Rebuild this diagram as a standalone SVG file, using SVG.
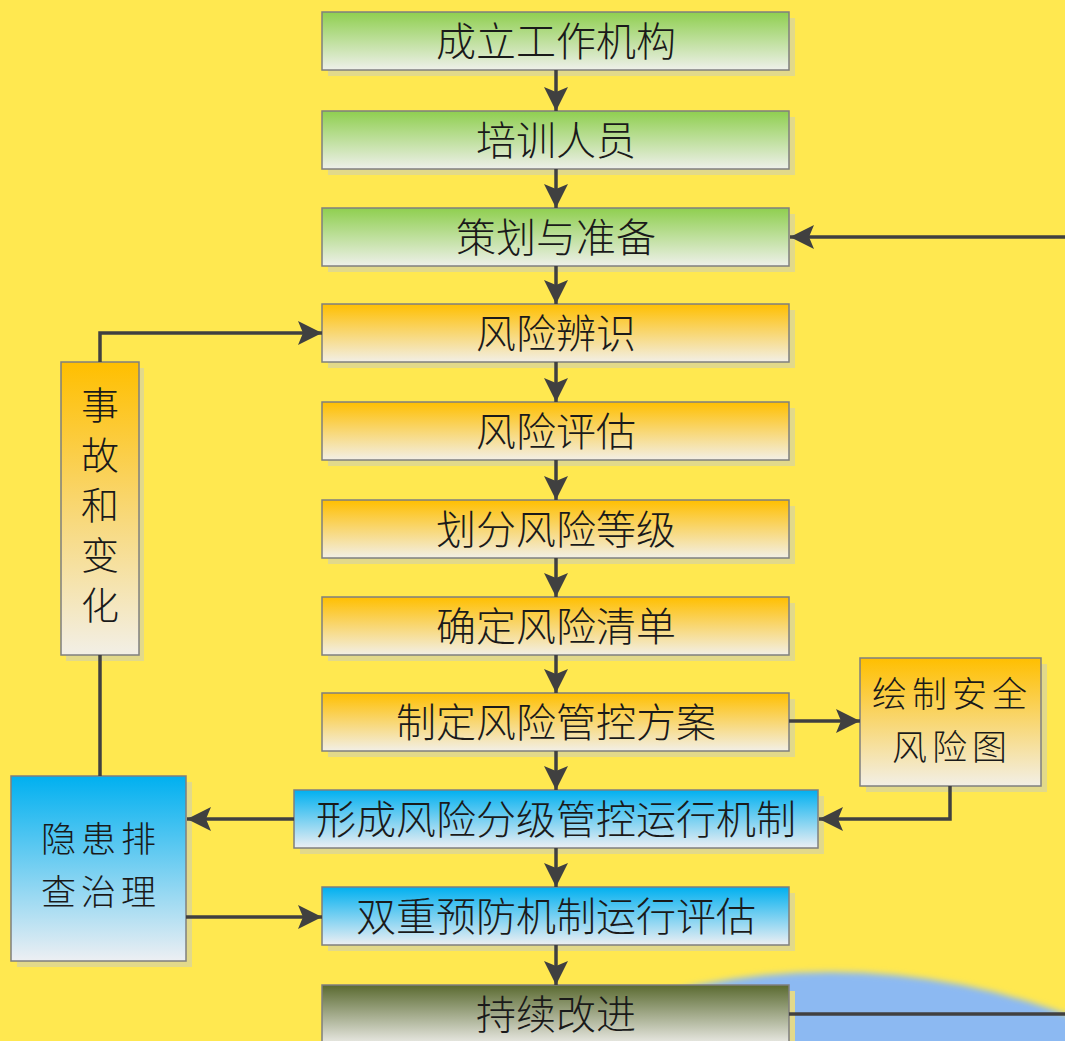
<svg xmlns="http://www.w3.org/2000/svg" width="1065" height="1041" viewBox="0 0 1065 1041">
<defs>
<linearGradient id="gGreen" x1="0" y1="0" x2="0" y2="1"><stop offset="0" stop-color="#8fcf4f"/><stop offset="1" stop-color="#eef0ea"/></linearGradient>
<linearGradient id="gOrange" x1="0" y1="0" x2="0" y2="1"><stop offset="0" stop-color="#ffbf00"/><stop offset="1" stop-color="#f2efe6"/></linearGradient>
<linearGradient id="gBlue" x1="0" y1="0" x2="0" y2="1"><stop offset="0" stop-color="#00b0f0"/><stop offset="1" stop-color="#edeff3"/></linearGradient>
<linearGradient id="gDark" x1="0" y1="0" x2="0" y2="1"><stop offset="0" stop-color="#5a6a30"/><stop offset="1" stop-color="#e8e8e2"/></linearGradient>
<filter id="blur" x="-10%" y="-10%" width="120%" height="120%"><feGaussianBlur stdDeviation="3"/></filter>
<marker id="arr" viewBox="0 0 24 24" refX="24" refY="12" markerWidth="24" markerHeight="24" markerUnits="userSpaceOnUse" orient="auto">
<path d="M0,0 L24,12 L0,24 L5,12 Z" fill="#404040"/>
</marker>
<style>
.shadow{fill:#e2d98a}
.box{stroke:#7f7f7f;stroke-width:1.5}
.t{font-family:"Noto Sans CJK SC","Noto Sans CJK JP",sans-serif;font-size:40px;font-weight:300;fill:#1a1a1a;text-anchor:middle;dominant-baseline:central}
.t2{font-family:"Noto Sans CJK SC","Noto Sans CJK JP",sans-serif;font-size:35px;font-weight:300;letter-spacing:5px;fill:#1a1a1a;text-anchor:middle;dominant-baseline:central}
.v{font-family:"Noto Sans CJK SC","Noto Sans CJK JP",sans-serif;font-size:38px;font-weight:300;fill:#1a1a1a;writing-mode:vertical-rl;letter-spacing:12px}
.c{fill:none;stroke:#404040;stroke-width:3.5}
.a{marker-end:url(#arr)}
</style>
</defs>
<rect width="1065" height="1041" fill="#ffe850"/>
<circle cx="830" cy="1652" r="680" fill="#8cb9f2" filter="url(#blur)"/>

<g id="n1"><rect class="shadow" x="328" y="18" width="467" height="58"/><rect class="box" x="322" y="12" width="467" height="58" fill="url(#gGreen)"/><text class="t" x="556" y="39">成立工作机构</text></g>
<g id="n2"><rect class="shadow" x="328" y="117" width="467" height="58"/><rect class="box" x="322" y="111" width="467" height="58" fill="url(#gGreen)"/><text class="t" x="556" y="138">培训人员</text></g>
<g id="n3"><rect class="shadow" x="328" y="214" width="467" height="58"/><rect class="box" x="322" y="208" width="467" height="58" fill="url(#gGreen)"/><text class="t" x="556" y="235">策划与准备</text></g>
<g id="n4"><rect class="shadow" x="328" y="310" width="467" height="58"/><rect class="box" x="322" y="304" width="467" height="58" fill="url(#gOrange)"/><text class="t" x="556" y="331">风险辨识</text></g>
<g id="n5"><rect class="shadow" x="328" y="408" width="467" height="58"/><rect class="box" x="322" y="402" width="467" height="58" fill="url(#gOrange)"/><text class="t" x="556" y="429">风险评估</text></g>
<g id="n6"><rect class="shadow" x="328" y="506" width="467" height="58"/><rect class="box" x="322" y="500" width="467" height="58" fill="url(#gOrange)"/><text class="t" x="556" y="527">划分风险等级</text></g>
<g id="n7"><rect class="shadow" x="328" y="603" width="467" height="58"/><rect class="box" x="322" y="597" width="467" height="58" fill="url(#gOrange)"/><text class="t" x="556" y="624">确定风险清单</text></g>
<g id="n8"><rect class="shadow" x="328" y="699" width="467" height="58"/><rect class="box" x="322" y="693" width="467" height="58" fill="url(#gOrange)"/><text class="t" x="556" y="720">制定风险管控方案</text></g>
<g id="n9"><rect class="shadow" x="300" y="796" width="524" height="58"/><rect class="box" x="294" y="790" width="524" height="58" fill="url(#gBlue)"/><text class="t" x="556" y="817">形成风险分级管控运行机制</text></g>
<g id="n10"><rect class="shadow" x="328" y="893" width="467" height="58"/><rect class="box" x="322" y="887" width="467" height="58" fill="url(#gBlue)"/><text class="t" x="556" y="914">双重预防机制运行评估</text></g>
<g id="n11"><rect class="shadow" x="328" y="991" width="467" height="58"/><rect class="box" x="322" y="985" width="467" height="58" fill="url(#gDark)"/><text class="t" x="556" y="1012">持续改进</text></g>

<g id="n12"><rect class="shadow" x="66" y="368" width="78" height="293"/><rect class="box" x="61" y="362" width="78" height="293" fill="url(#gOrange)"/>
<text class="v" x="100" y="386">事故和变化</text></g>
<g id="n13"><rect class="shadow" x="17" y="782" width="175" height="185"/><rect class="box" x="11" y="776" width="175" height="185" fill="url(#gBlue)"/>
<text class="t2" x="101" y="836">隐患排</text><text class="t2" x="101" y="889">查治理</text></g>
<g id="n14"><rect class="shadow" x="866" y="664" width="181" height="128"/><rect class="box" x="860" y="658" width="181" height="128" fill="url(#gOrange)"/>
<text class="t2" x="952" y="691">绘制安全</text><text class="t2" x="952" y="744">风险图</text></g>

<g id="connectors">
<line class="c a" x1="556" y1="70" x2="556" y2="111"/>
<line class="c a" x1="556" y1="169" x2="556" y2="208"/>
<line class="c a" x1="556" y1="266" x2="556" y2="304"/>
<line class="c a" x1="556" y1="362" x2="556" y2="402"/>
<line class="c a" x1="556" y1="460" x2="556" y2="500"/>
<line class="c a" x1="556" y1="558" x2="556" y2="597"/>
<line class="c a" x1="556" y1="655" x2="556" y2="693"/>
<line class="c a" x1="556" y1="751" x2="556" y2="790"/>
<line class="c a" x1="556" y1="848" x2="556" y2="887"/>
<line class="c a" x1="556" y1="945" x2="556" y2="985"/>
<line class="c a" x1="1065" y1="237" x2="790" y2="237"/>
<polyline class="c a" points="100,362 100,333 322,333"/>
<line class="c" x1="100" y1="655" x2="100" y2="776"/>
<line class="c a" x1="294" y1="819" x2="187" y2="819"/>
<line class="c a" x1="186" y1="917" x2="322" y2="917"/>
<line class="c a" x1="789" y1="721" x2="860" y2="721"/>
<polyline class="c a" points="950,786 950,819 819,819"/>
<line class="c" x1="789" y1="1014" x2="1065" y2="1014"/>
</g>
</svg>
